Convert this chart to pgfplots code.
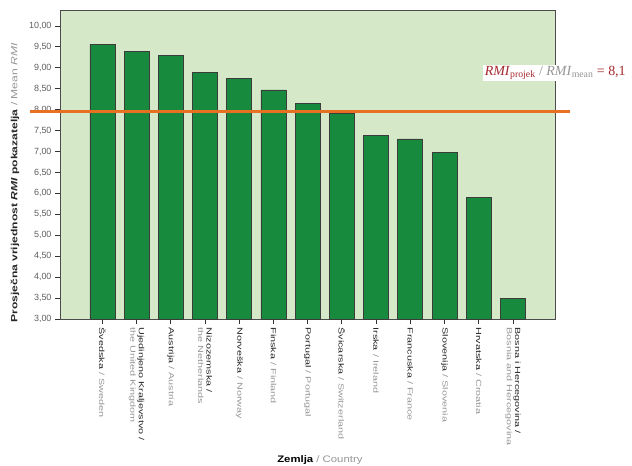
\documentclass[border=0pt]{standalone}
\usepackage{pgfplots}
\pgfplotsset{compat=1.18}
\usepackage{fontspec}
\setmainfont{Liberation Sans}
\newfontfamily\xlabfont{Liberation Sans}[FakeStretch=1.45]
\newfontfamily\ylabfont{Liberation Sans}[FakeStretch=1.35]
\newfontfamily\xtitlefont{Liberation Sans}[FakeStretch=1.2]
\newfontfamily\annfont{Liberation Serif}
\definecolor{bggreen}{RGB}{213,232,200}
\definecolor{bargreen}{RGB}{24,138,62}
\definecolor{barline}{RGB}{60,60,60}
\definecolor{rmiorange}{RGB}{232,112,34}
\definecolor{txtgray}{RGB}{150,150,150}
\definecolor{ticgray}{RGB}{95,95,95}
\definecolor{rmired}{RGB}{165,40,45}
\newcommand{\en}[1]{\textcolor{txtgray}{#1}}

\begin{document}
\begin{tikzpicture}
\useasboundingbox (-60bp,-147bp) rectangle (572bp,319bp);
\begin{axis}[
    at={(0,0)}, anchor=south west,
    scale only axis, width=495bp, height=309bp,
    xmin=-1.24, xmax=13.23,
    ymin=3, ymax=10.38,
    ytick={3,3.5,4,4.5,5,5.5,6,6.5,7,7.5,8,8.5,9,9.5,10},
    xtick={0,...,12},
    xticklabels={
        {Švedska \en{/ Sweden}},
        {Ujedinjeno Kraljevstvo /\\\en{the United Kingdom}},
        {Austrija \en{/ Austria}},
        {Nizozemska /\\\en{the Netherlands}},
        {Norveška \en{/ Norway}},
        {Finska \en{/ Finland}},
        {Portugal \en{/ Portugal}},
        {Švicarska \en{/ Switzerland}},
        {Irska \en{/ Ireland}},
        {Francuska \en{/ France}},
        {Slovenija \en{/ Slovenia}},
        {Hrvatska \en{/ Croatia}},
        {Bosna i Hercegovina /\\\en{Bosnia and Hercegovina}}},
    xticklabel style={rotate=-90, anchor=west, align=left, text=black!85,
        font=\xlabfont\fontsize{7.5}{8.5}\selectfont},
    yticklabel style={text=ticgray, font=\fontsize{9}{9}\selectfont},
    /pgf/number format/fixed, /pgf/number format/fixed zerofill,
    /pgf/number format/precision=2, /pgf/number format/use comma,
    /pgf/number format/assume math mode=true,
    tick align=outside, xtick pos=bottom, ytick pos=left,
    major tick length=5bp,
    tick style={black!80, line width=0.8pt},
    axis line style={black!70, line width=0.8pt},
    axis background/.style={fill=bggreen},
    ylabel={\ylabfont\bfseries Prosječna vrijednost \textit{RMI} pokazatelja \mdseries\en{/ Mean \textit{RMI}}},
    ylabel style={at={(axis description cs:-0.091,0.44)}, anchor=center,
        font=\fontsize{9}{10}\selectfont, text=black!85},
    xlabel={\xtitlefont\bfseries Zemlja \mdseries\en{/ Country}},
    xlabel style={at={(axis description cs:0.525,-0.456)}, anchor=center,
        font=\fontsize{9.5}{10}\selectfont},
    clip mode=individual,
]
\addplot[ybar, bar width=25bp, fill=bargreen, draw=barline, line width=0.8pt]
    coordinates {
    (0,9.55) (1,9.38) (2,9.29) (3,8.89) (4,8.74) (5,8.47) (6,8.15)
    (7,7.91) (8,7.38) (9,7.30) (10,6.97) (11,5.91) (12,3.49)};
% mean line
\addplot[rmiorange, line width=3.5bp, clip=false]
    coordinates {(-2.12,7.95) (13.67,7.95)};
\node[anchor=west, fill=white, inner sep=1.5pt, font=\annfont\fontsize{14}{15}\selectfont]
    at (axis cs:11.13,8.88)
    {\color{rmired}\textit{RMI}\textsubscript{projek}\ \color{txtgray}/\ \textit{RMI}\textsubscript{mean}\ \color{rmired}=\ 8,1};
\end{axis}
\end{tikzpicture}
\end{document}
